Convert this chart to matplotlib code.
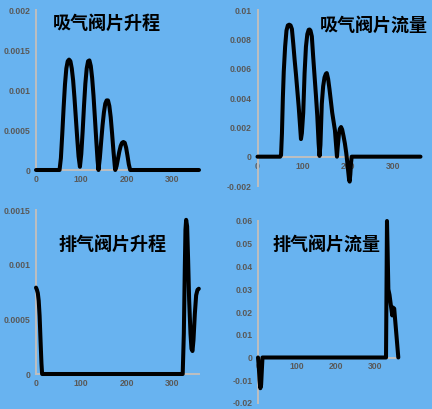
import matplotlib
matplotlib.use("Agg")
import matplotlib.pyplot as plt

plt.rcParams['font.family'] = ['Liberation Sans', 'DejaVu Sans']

# Intake valve lift
intake_lift_x = [0, 52, 55, 58, 61, 64, 67, 70, 73, 76, 79, 82, 85, 88, 91, 94, 97,
                 100, 103, 106, 109, 112, 115, 118, 121, 124, 127, 130, 133, 136, 138,
                 141, 144, 147, 150, 153, 156, 159, 162, 165, 168, 171, 174, 175,
                 178, 181, 184, 187, 190, 193, 196, 199, 202, 205, 208, 360]
intake_lift_y = [0, 0, 0.00015, 0.00045, 0.00078, 0.00107, 0.00127, 0.00136, 0.00138, 0.00136,
                 0.00127, 0.00112, 0.0009, 0.00065, 0.0004, 0.00017, 0.00004,
                 0.0002, 0.00048, 0.0008, 0.00108, 0.00127, 0.00136, 0.00137, 0.0013, 0.00115,
                 0.00093, 0.00066, 0.00038, 0.00012, 0,
                 0.00015, 0.00036, 0.00056, 0.00072, 0.00083, 0.00087, 0.00087, 0.0008, 0.00066,
                 0.00046, 0.00024, 0.00005, 0,
                 0.00005, 0.00014, 0.00023, 0.0003, 0.00034, 0.00035, 0.00034, 0.00028, 0.00018,
                 0.00007, 0, 0]

# Intake valve flow
intake_flow_x = [0, 50, 52, 54, 56, 58, 61, 64, 67, 70, 73, 76, 79, 82, 85, 88, 91, 94, 96,
                 98, 101, 104, 107, 110, 113, 115, 117, 120, 123, 126, 129, 132, 135, 137,
                 139, 142, 145, 148, 151, 153, 156, 159, 162, 165, 168, 171, 173.5, 175.5,
                 177, 180, 182, 184.5, 187, 190, 193, 196, 198, 200, 202, 203.5, 205, 206.5,
                 208, 360]
intake_flow_y = [0, 0, 0.0001, 0.0016, 0.004, 0.0058, 0.0075, 0.0086, 0.00895, 0.009, 0.00895,
                 0.0087, 0.0077, 0.0066, 0.0056, 0.0045, 0.0034, 0.0021, 0.0012,
                 0.0016, 0.003, 0.0057, 0.0075, 0.00835, 0.00865, 0.00867, 0.0086, 0.0082,
                 0.0068, 0.0055, 0.0042, 0.0028, 0.0009, 0.00005,
                 0.0008, 0.0036, 0.0048, 0.0054, 0.00565, 0.0057, 0.0053, 0.0046, 0.0038,
                 0.003, 0.0024, 0.0018, 0.0008, 0,
                 0.0006, 0.0016, 0.0019, 0.00202, 0.00185, 0.0014, 0.0009, 0.00025, -0.0003,
                 -0.0009, -0.0015, -0.0017, -0.0012, -0.00045, 0, 0]

# Exhaust valve lift
exhaust_lift_x = [0, 2, 4, 6, 8, 10, 12, 13.5, 324, 326.5, 328.7, 330.1, 331.6, 333.8, 336,
                  338.2, 341.2, 343.4, 345.6, 347.8, 350.8, 353.7, 356.7, 359.6]
exhaust_lift_y = [0.00079, 0.00077, 0.00074, 0.00067, 0.00053, 0.00031, 0.0001, 0, 0, 0.00037,
                  0.00098, 0.00132, 0.00141, 0.00135, 0.00104, 0.00068, 0.00037, 0.00023,
                  0.00021, 0.00031, 0.00055, 0.00072, 0.00077, 0.00078]

# Exhaust valve flow
exhaust_flow_x = [0, 2, 4, 6, 8, 10, 11.5, 328, 330.5, 332, 334, 337, 340, 344, 345.5, 349, 359.5]
exhaust_flow_y = [0, -0.004, -0.01, -0.0135, -0.012, -0.005, 0, 0, 0.06, 0.048, 0.03, 0.0275,
                  0.0235, 0.0185, 0.022, 0.0215, 0]

W, H = 432, 409
BG = '#68B3F0'
fig = plt.figure(figsize=(W / 100, H / 100), dpi=100, facecolor=BG)


def panel(px_rect, x, y, ylim, yticks, ylabels, title, title_px):
    # px_rect: left, top, right, bottom in pixels
    l, t, r, b = px_rect
    ax = fig.add_axes([l / W, 1 - b / H, (r - l) / W, (b - t) / H])
    ax.set_facecolor('none')
    ax.plot(x, y, color='black', lw=2.9, solid_joinstyle='round',
            solid_capstyle='round', clip_on=False, zorder=3)
    ax.set_xlim(0, 360)
    ax.set_ylim(*ylim)
    ax.set_xticks([0, 100, 200, 300])
    ax.set_yticks(yticks)
    ax.set_yticklabels(ylabels)
    for s in ['top', 'right']:
        ax.spines[s].set_visible(False)
    ax.spines['bottom'].set_position(('data', 0))
    for s in ['left', 'bottom']:
        ax.spines[s].set_color('#BFBFBF')
        ax.spines[s].set_linewidth(1.4)
    ax.tick_params(axis='x', length=0, labelsize=6.2, labelcolor='#595959', pad=3.5)
    ax.tick_params(axis='y', length=0, labelsize=6.2, labelcolor='#595959', pad=4)
    for lbl in ax.get_xticklabels() + ax.get_yticklabels():
        lbl.set_fontweight('bold')
    fig.text(title_px[0] / W, 1 - title_px[1] / H, title, ha='center', va='center',
             fontsize=13, fontweight='bold', color='black',
             family=['Noto Sans CJK SC', 'DejaVu Sans'])
    return ax


panel((36, 10, 199, 170), intake_lift_x, intake_lift_y, (0, 0.002),
      [0, 0.0005, 0.001, 0.0015, 0.002], ['0', '0.0005', '0.001', '0.0015', '0.002'],
      '吸气阀片升程', (107, 23))

panel((257.5, 10, 420.5, 186), intake_flow_x, intake_flow_y, (-0.002, 0.01),
      [-0.002, 0, 0.002, 0.004, 0.006, 0.008, 0.01],
      ['-0.002', '0', '0.002', '0.004', '0.006', '0.008', '0.01'],
      '吸气阀片流量', (373.5, 25))

panel((36, 210, 199, 374), exhaust_lift_x, exhaust_lift_y, (0, 0.0015),
      [0, 0.0005, 0.001, 0.0015], ['0', '0.0005', '0.001', '0.0015'],
      '排气阀片升程', (112.5, 244))

panel((258, 221, 398.5, 403), exhaust_flow_x, exhaust_flow_y, (-0.02, 0.06),
      [-0.02, -0.01, 0, 0.01, 0.02, 0.03, 0.04, 0.05, 0.06],
      ['-0.02', '-0.01', '0', '0.01', '0.02', '0.03', '0.04', '0.05', '0.06'],
      '排气阀片流量', (326, 244))

fig.savefig('out.png', dpi=100, facecolor=BG)
